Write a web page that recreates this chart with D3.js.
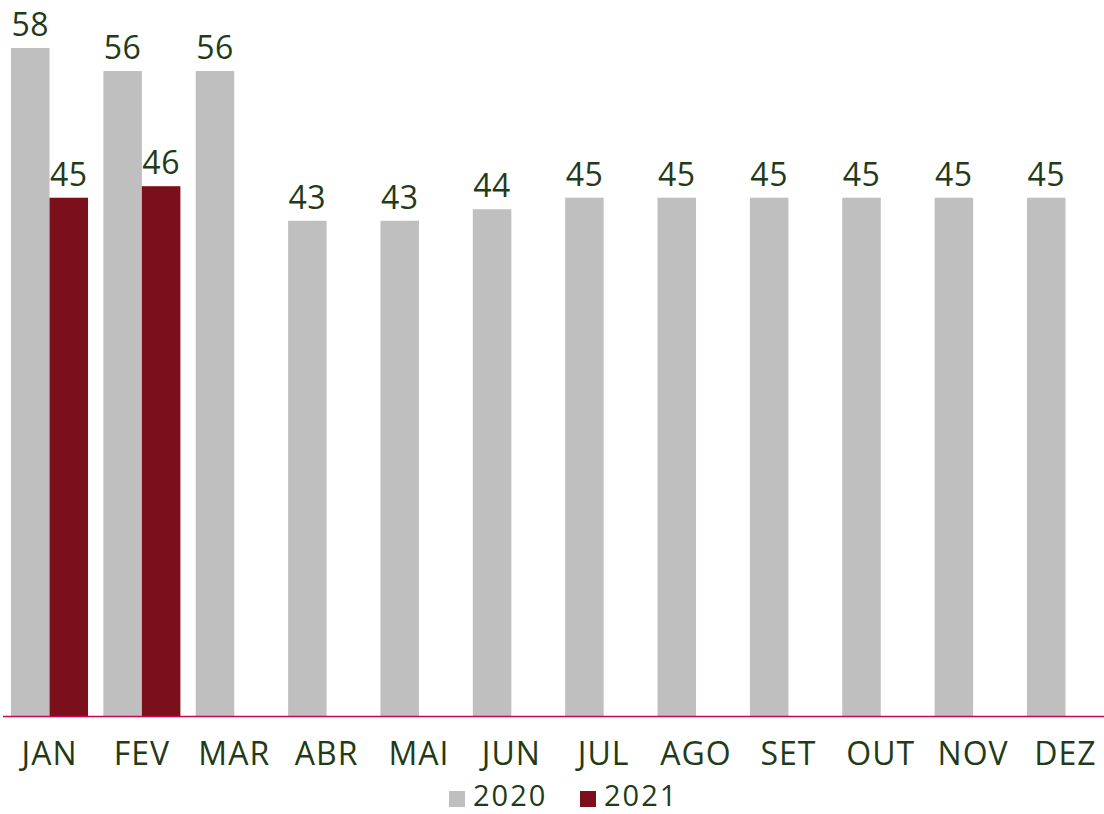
<!DOCTYPE html>
<html><head><meta charset="utf-8">
<script src="https://cdn.jsdelivr.net/npm/d3@7"></script>
<style>body{margin:0;background:#fff}svg{display:block}</style>
</head><body><svg id="c" width="1104" height="814"></svg>
<script>
const months = ["JAN","FEV","MAR","ABR","MAI","JUN","JUL","AGO","SET","OUT","NOV","DEZ"];
const series = ["2020","2021"];
const values2020 = [58,56,56,43,43,44,45,45,45,45,45,45];
const values2021 = [45,46,null,null,null,null,null,null,null,null,null,null];
const colors = ["#bfbfbf","#7b0f1b"];
const textColor = "#1f3b17";
const font = "'Open Sans', sans-serif";

const svg = d3.select("#c");
const baseY = 716;
const x = d3.scaleBand().domain(months).range([11,1104]).paddingInner(0.166).paddingOuter(0);
const xs = d3.scaleBand().domain(series).range([0,x.bandwidth()]);
const y = d3.scaleLinear().domain([0,58]).range([baseY,48]);

const data = [];
months.forEach((m,i)=>{
  [values2020[i], values2021[i]].forEach((v,j)=>{ if(v!=null) data.push({m,s:series[j],v,c:colors[j]}); });
});

svg.selectAll("rect.bar").data(data).join("rect").attr("class","bar")
  .attr("x",d=>x(d.m)+xs(d.s)).attr("width",xs.bandwidth())
  .attr("y",d=>y(d.v)).attr("height",d=>baseY-y(d.v)).attr("fill",d=>d.c);

svg.selectAll("text.val").data(data).join("text").attr("class","val")
  .attr("x",d=>x(d.m)+xs(d.s)+xs.bandwidth()/2).attr("y",d=>y(d.v)-12)
  .attr("text-anchor","middle").attr("font-family",font).attr("font-size",32)
  .attr("letter-spacing",0.5)
  .attr("fill",textColor).text(d=>d.v);

svg.append("line").attr("x1",3).attr("x2",1104).attr("y1",baseY+0.5).attr("y2",baseY+0.5)
  .attr("stroke","#d0034f").attr("stroke-width",1.5);

const ax = svg.append("g").attr("transform",`translate(0,${baseY})`)
  .call(d3.axisBottom(x).tickSize(0).tickPadding(26));
ax.select(".domain").remove();
ax.selectAll("text").attr("font-family",font).attr("font-size",32).attr("letter-spacing",1)
  .attr("fill",textColor);

const legend = svg.append("g");
const lx = [449,580];
series.forEach((s,i)=>{
  legend.append("rect").attr("x",lx[i]).attr("y",791).attr("width",16).attr("height",16).attr("fill",colors[i]);
  legend.append("text").attr("x",lx[i]+24).attr("y",806).attr("font-family",font).attr("font-size",29)
    .attr("letter-spacing",2).attr("fill",textColor).text(s);
});
</script></body></html>
